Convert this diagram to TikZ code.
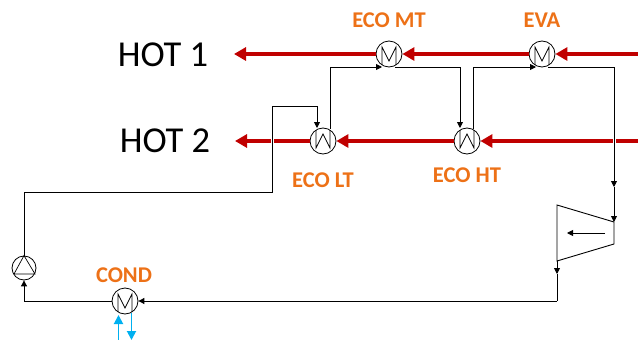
\documentclass[tikz,border=0pt]{standalone}
\usepackage{fontspec}
\setmainfont{Carlito}
\usetikzlibrary{arrows.meta}
\definecolor{hotred}{HTML}{C00000}
\definecolor{coldblue}{HTML}{00B0F0}
\definecolor{lblorange}{HTML}{ED7117}
\tikzset{
  hx/.style={draw,circle,line width=0.8pt,minimum size=26pt,inner sep=0pt},
  sym/.style={line width=0.7pt,line join=miter},
  pipe/.style={line width=0.9pt,-{Triangle[length=6pt,width=6pt]}},
  plainpipe/.style={line width=0.9pt},
  hot/.style={hotred,line width=3.6pt,-{Triangle[length=12pt,width=13pt]}},
  hotplain/.style={hotred,line width=3.6pt},
  cold/.style={coldblue,line width=1.9pt,-{Triangle[length=9pt,width=9pt]}},
  lbl/.style={text=lblorange,font=\fontsize{22.5}{25}\selectfont\bfseries},
  stream/.style={font=\fontsize{36.5}{40}\selectfont}
}
\begin{document}
\begin{tikzpicture}[x=1pt,y=-1pt]
\useasboundingbox (0,0) rectangle (638,340);
\node[stream] (hot1) at (163,55) {HOT 1};
\node[stream] (hot2) at (165,141) {HOT 2};
\node[hx] (eva) at (542,54) {};
\node[hx] (mt) at (389,54) {};
\node[hx] (lt) at (323,141) {};
\node[hx] (ht) at (467,141) {};
\node[hx] (cond) at (125,301) {};
\node[hx,minimum size=24pt] (pump) at (24,268) {};
\node[lbl] (evalbl) at (542,20) {EVA};
\node[lbl] (mtlbl) at (389,20) {ECO MT};
\node[lbl] (ltlbl) at (323,180) {ECO LT};
\node[lbl] (htlbl) at (467,175) {ECO HT};
\node[lbl] (condlbl) at (124,275) {COND};
% symbols inside the exchangers
\foreach \n in {eva,mt,cond}
  \draw[sym] ([shift={(-7,11)}]\n.center) -- ++(0,-18) -- ++(7,14) -- ++(7,-14) -- ++(0,18);
\foreach \n in {lt,ht}
  \draw[sym] ([shift={(-7,-11)}]\n.center) -- ++(0,18) -- ++(7,-14) -- ++(7,14) -- ++(0,-18);
\draw[sym] (pump.north) -- (14,274) -- (35,274) -- cycle;
% turbine
\coordinate (ta) at (557,205);
\coordinate (tb) at (614,222);
\coordinate (tc) at (614,244);
\coordinate (td) at (557,261);
\draw[line width=0.9pt,line join=miter] (ta) -- (tb) -- (tc) -- (td) -- cycle;
\coordinate (tarr1) at (605,233);
\coordinate (tarr2) at (567,233);
\draw[pipe] (tarr1) -- (tarr2);
% hot side
\coordinate (h1in) at (638,54);
\coordinate (h2in) at (638,141);
\coordinate (h1out) at (234,54);
\coordinate (h2out) at (235,141);
\coordinate (gapa) at (615.5,141);
\coordinate (gapb) at (612.5,141);
\coordinate (gapc) at (274,141);
\coordinate (gapd) at (271,141);
\draw[hot] (h1in) -- (eva.east);
\draw[hot] (eva.west) -- (mt.east);
\draw[hot] (mt.west) -- (h1out);
\draw[hotplain] (h2in) -- (gapa);
\draw[hot] (gapb) -- (ht.east);
\draw[hot] (ht.west) -- (lt.east);
\draw[hotplain] (lt.west) -- (gapc);
\draw[hot] (gapd) -- (h2out);
% water side
\coordinate (p1) at (24,192);
\coordinate (p2) at (272,192);
\coordinate (p3) at (272,106);
\coordinate (ltin) at (317,128);
\coordinate (ltout) at (330,129);
\coordinate (mtin) at (382,67);
\coordinate (mtout) at (395,67);
\coordinate (htin) at (460,128);
\coordinate (htout) at (473,129);
\coordinate (evain) at (536,67);
\coordinate (evaout) at (548,67);
\coordinate (down) at (614,187);
\coordinate (texit) at (557,274);
\coordinate (tcorner) at (557,301);
\coordinate (condout) at (112,301);
\coordinate (pcorner) at (24,301);
\draw[plainpipe] (pump.north) -- (p1) -- (p2) -- (p3) -| (317,118);
\draw[pipe] (317,106) -- (ltin);
\draw[pipe] (ltout) |- (mtin);
\draw[pipe] (mtout) -| (htin);
\draw[pipe] (htout) |- (evain);
\draw[pipe] (evaout) -| (down);
\draw[pipe] (down) -- (tb);
\draw[pipe] (td) -- (texit);
\draw[plainpipe] (texit) -- (tcorner);
\draw[pipe] (tcorner) -- (cond.east);
\draw[plainpipe] (condout) -- (pcorner);
\draw[pipe] (pcorner) -- (pump.south);
% cooling water
\coordinate (cw1) at (118.5,340);
\coordinate (cw2) at (118.5,315);
\coordinate (cw3) at (131.5,313);
\coordinate (cw4) at (131.5,340);
\draw[cold] (cw1) -- (cw2);
\draw[cold] (cw3) -- (cw4);
\end{tikzpicture}
\end{document}
